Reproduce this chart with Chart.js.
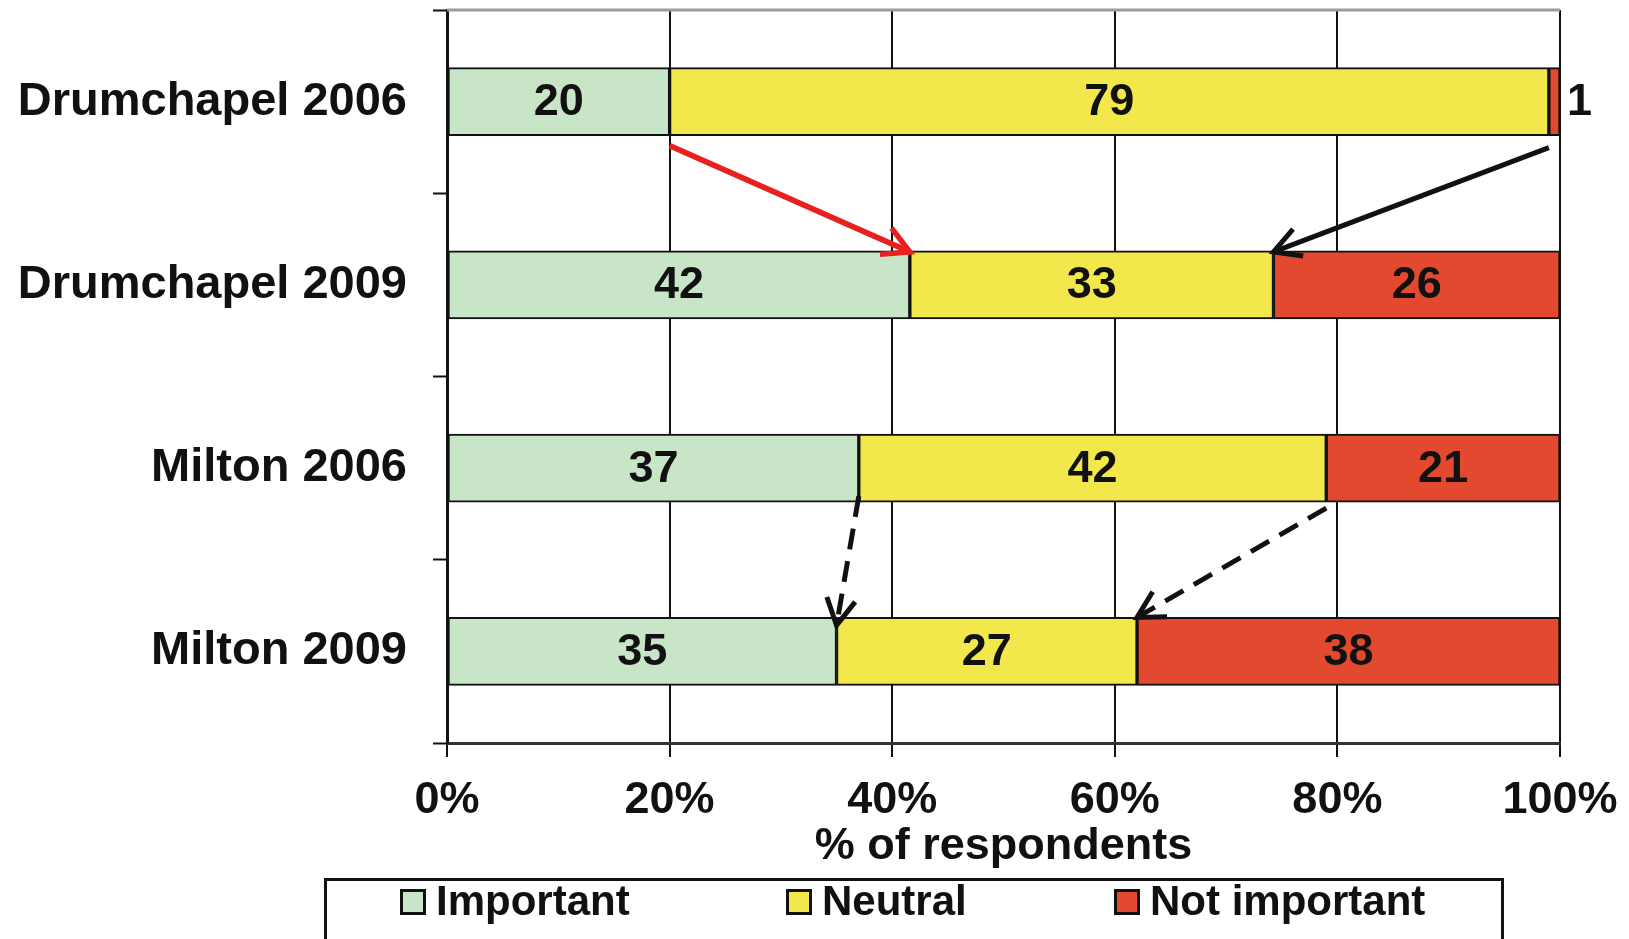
<!DOCTYPE html>
<html>
<head>
<meta charset="utf-8">
<title>Importance ratings by area and year</title>
<script src="https://cdn.jsdelivr.net/npm/chart.js@4.4.1/dist/chart.umd.min.js"></script>
<style>
  html, body { margin: 0; padding: 0; background: #ffffff; }
  canvas { display: block; }
</style>
</head>
<body>
<canvas id="chart" width="1629" height="939"></canvas>
<script>
// Survey responses (% of respondents) per area and year
const sites = ['Drumchapel 2006', 'Drumchapel 2009', 'Milton 2006', 'Milton 2009'];
const important = [20, 42, 37, 35];
const neutral = [79, 33, 42, 27];
const notImportant = [1, 26, 21, 38];
const seriesNames = ['Important', 'Neutral', 'Not important'];
const xTickValues = [0, 20, 40, 60, 80, 100];

const FONT = '"Liberation Sans", Arial, Helvetica, sans-serif';
const INK = '#111111';
const seriesColors = ['#c8e5c8', '#f2e84b', '#e3492f'];

// Each bar is a 100% stack: segments are shares of the row total
const rowTotals = sites.map((_, i) => important[i] + neutral[i] + notImportant[i]);
const asShare = arr => arr.map((v, i) => v / rowTotals[i] * 100);

const seriesValues = [important, neutral, notImportant];
const datasets = seriesValues.map((vals, k) => ({
  label: seriesNames[k],
  data: asShare(vals),
  raw: vals,
  backgroundColor: seriesColors[k],
  borderColor: INK,
  borderWidth: 2,
  borderSkipped: false,
  barThickness: 68
}));

// Arrows linking the end of a segment in one year to the same segment in the next
const arrowLinks = [
  { from: 0, to: 1, seg: 0, color: '#e8211f', width: 5.5, dash: [], startGap: 10, endGap: 1 },
  { from: 0, to: 1, seg: 1, color: INK, width: 5, dash: [], startGap: 12, endGap: 1 },
  { from: 2, to: 3, seg: 0, color: INK, width: 5, dash: [21, 12], startGap: -6, endGap: 8 },
  { from: 2, to: 3, seg: 1, color: INK, width: 5, dash: [21, 12], startGap: 6, endGap: 0 }
];

const valueLabels = {
  id: 'valueLabels',
  afterDatasetsDraw(chart) {
    const ctx = chart.ctx;
    ctx.save();
    ctx.font = 'bold 45px ' + FONT;
    ctx.fillStyle = INK;
    ctx.textBaseline = 'middle';
    chart.data.datasets.forEach((ds, di) => {
      chart.getDatasetMeta(di).data.forEach((bar, i) => {
        const txt = String(ds.raw[i]);
        const w = Math.abs(bar.x - bar.base);
        const tw = ctx.measureText(txt).width;
        if (w > tw + 10) {
          ctx.textAlign = 'center';
          ctx.fillText(txt, (bar.x + bar.base) / 2, bar.y + 1);
        } else {
          ctx.textAlign = 'left';
          ctx.fillText(txt, bar.x + 7, bar.y + 1);
        }
      });
    });
    ctx.restore();
  }
};

const changeArrows = {
  id: 'changeArrows',
  afterDatasetsDraw(chart) {
    const ctx = chart.ctx;
    ctx.save();
    arrowLinks.forEach(a => {
      const meta = chart.getDatasetMeta(a.seg);
      const b0 = meta.data[a.from];
      const b1 = meta.data[a.to];
      const x0 = b0.x, y0 = b0.y + b0.height / 2 + a.startGap;
      const x1 = b1.x, y1 = b1.y - b1.height / 2 + a.endGap;
      ctx.strokeStyle = a.color;
      ctx.lineWidth = a.width;
      ctx.lineCap = 'butt';
      ctx.setLineDash(a.dash);
      ctx.beginPath();
      ctx.moveTo(x0, y0);
      ctx.lineTo(x1, y1);
      ctx.stroke();
      // open arrow head
      const ang = Math.atan2(y1 - y0, x1 - x0);
      const len = 30, spread = 0.5;
      ctx.setLineDash([]);
      ctx.lineJoin = 'miter';
      ctx.beginPath();
      ctx.moveTo(x1 - len * Math.cos(ang - spread), y1 - len * Math.sin(ang - spread));
      ctx.lineTo(x1, y1);
      ctx.lineTo(x1 - len * Math.cos(ang + spread), y1 - len * Math.sin(ang + spread));
      ctx.stroke();
    });
    ctx.restore();
  }
};

const plotFrame = {
  id: 'plotFrame',
  beforeDatasetsDraw(chart) {
    const { ctx, chartArea } = chart;
    ctx.save();
    ctx.strokeStyle = '#9c9c9c';
    ctx.lineWidth = 3;
    ctx.beginPath();
    ctx.moveTo(chartArea.left, chartArea.top);
    ctx.lineTo(chartArea.right, chartArea.top);
    ctx.stroke();
    ctx.restore();
  }
};

const boxLegend = {
  id: 'boxLegend',
  afterDraw(chart) {
    const ctx = chart.ctx;
    ctx.save();
    ctx.strokeStyle = INK;
    ctx.lineWidth = 3;
    ctx.strokeRect(325.5, 879.5, 1177, 75);
    const itemX = [400, 786, 1114];
    const cy = 902;
    ctx.font = 'bold 42px ' + FONT;
    ctx.textBaseline = 'middle';
    ctx.textAlign = 'left';
    chart.data.datasets.forEach((ds, i) => {
      ctx.fillStyle = ds.backgroundColor;
      ctx.fillRect(itemX[i], cy - 13, 26, 26);
      ctx.lineWidth = 3;
      ctx.strokeStyle = INK;
      ctx.strokeRect(itemX[i] + 1.5, cy - 11.5, 23, 23);
      ctx.fillStyle = INK;
      ctx.fillText(ds.label, itemX[i] + 36, cy + 1);
    });
    ctx.restore();
  }
};

new Chart(document.getElementById('chart'), {
  type: 'bar',
  data: { labels: sites, datasets },
  plugins: [plotFrame, valueLabels, changeArrows, boxLegend],
  options: {
    indexAxis: 'y',
    responsive: false,
    animation: false,
    events: [],
    layout: { padding: { left: 0, right: 69, top: 10, bottom: 0 } },
    plugins: {
      legend: { display: false },
      tooltip: { enabled: false },
      title: { display: false }
    },
    scales: {
      x: {
        type: 'linear',
        stacked: true,
        min: 0,
        max: 100,
        afterBuildTicks: s => { s.ticks = xTickValues.map(v => ({ value: v })); },
        afterFit: s => { s.height = 196; s.paddingLeft = 0; s.paddingRight = 0; },
        ticks: {
          callback: v => v + '%',
          font: { family: FONT, size: 45, weight: 'bold' },
          color: INK,
          padding: 17,
          maxRotation: 0,
          autoSkip: false
        },
        grid: {
          color: INK,
          lineWidth: 2,
          drawTicks: true,
          tickLength: 14,
          tickColor: INK,
          tickWidth: 2
        },
        border: { display: true, color: '#333333', width: 3 },
        title: {
          display: true,
          text: '% of respondents',
          font: { family: FONT, size: 45, weight: 'bold' },
          color: INK,
          padding: { top: 0, bottom: 65 }
        }
      },
      y: {
        type: 'category',
        stacked: true,
        offset: true,
        afterFit: s => { s.width = 447; s.paddingTop = 0; s.paddingBottom = 0; },
        ticks: {
          font: { family: FONT, size: 47, weight: 'bold' },
          color: INK,
          padding: 26
        },
        grid: {
          offset: true,
          drawOnChartArea: false,
          drawTicks: true,
          tickLength: 14,
          tickColor: INK,
          tickWidth: 2,
          color: INK
        },
        border: { display: true, color: INK, width: 3 }
      }
    }
  }
});
</script>
</body>
</html>
